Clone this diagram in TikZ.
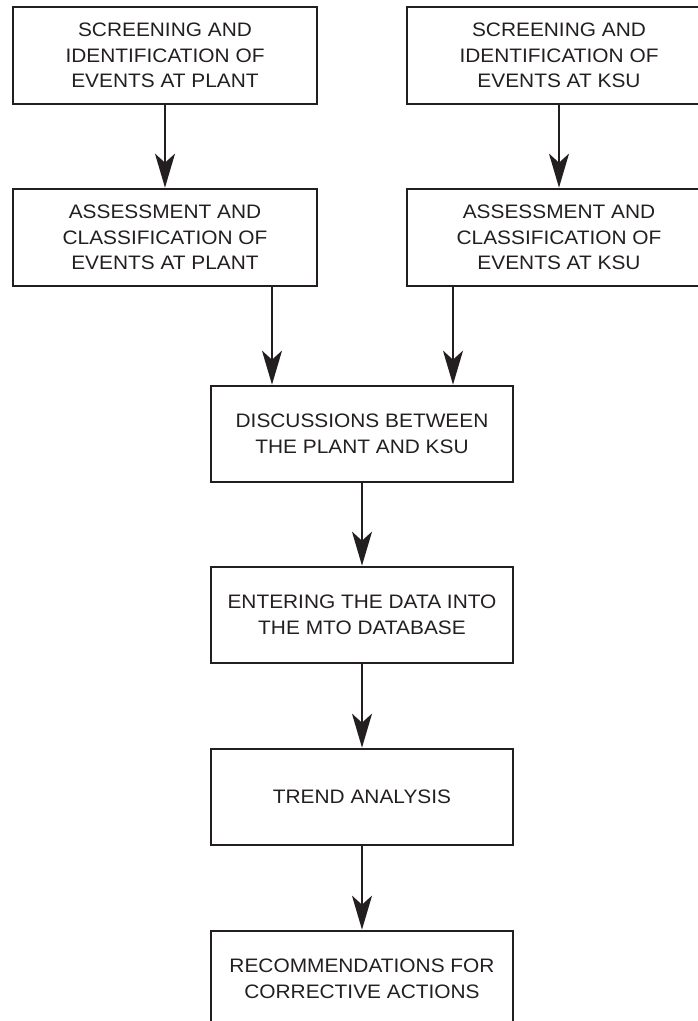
\documentclass[tikz,border=0pt]{standalone}
\usepackage{fontspec}
\setmainfont{Liberation Sans}[FakeStretch=1.07]
\usetikzlibrary{arrows.meta}
\definecolor{ink}{RGB}{35,31,32}
\begin{document}
\begin{tikzpicture}[x=1pt,y=-1pt,
  box/.style={draw=ink, line width=2.7pt, minimum width=304pt, minimum height=97pt,
    inner sep=0pt, align=center, text=ink,
    font=\fontsize{19.5}{25.5}\selectfont},
  wbox/.style={box, minimum width=302pt, minimum height=96pt},
  flow/.style={draw=ink, line width=2pt, -{Stealth[length=34pt,width=20pt,inset=9pt]}}]
\useasboundingbox (0,0) rectangle (698,1021);
\clip (0,0) rectangle (698,1021);
\node[box] (sp) at (165,55.5) {SCREENING AND\\IDENTIFICATION OF\\EVENTS AT PLANT};
\node[box] (ap) at (165,237.5) {ASSESSMENT AND\\CLASSIFICATION OF\\EVENTS AT PLANT};
\node[box] (sk) at (559,55.5) {SCREENING AND\\IDENTIFICATION OF\\EVENTS AT KSU};
\node[box] (ak) at (559,237.5) {ASSESSMENT AND\\CLASSIFICATION OF\\EVENTS AT KSU};
\node[wbox] (disc) at (362,434) {DISCUSSIONS BETWEEN\\THE PLANT AND KSU};
\node[wbox] (ent) at (362,615) {ENTERING THE DATA INTO\\THE MTO DATABASE};
\node[wbox] (trend) at (362,797) {TREND ANALYSIS};
\node[wbox] (rec) at (362,979) {RECOMMENDATIONS FOR\\CORRECTIVE ACTIONS};
\coordinate (cl) at (272,0);
\coordinate (cr) at (453,0);
\draw[flow] (sp) -- (ap);
\draw[flow] (sk) -- (ak);
\draw[flow] (ap.south -| cl) -- (disc.north -| cl);
\draw[flow] (ak.south -| cr) -- (disc.north -| cr);
\draw[flow] (disc) -- (ent);
\draw[flow] (ent) -- (trend);
\draw[flow] (trend) -- (rec);
\end{tikzpicture}
\end{document}
